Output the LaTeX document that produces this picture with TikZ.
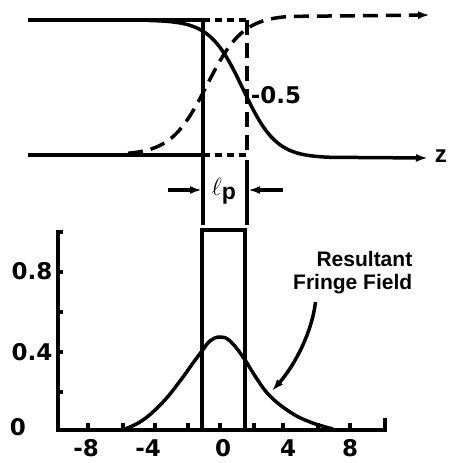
\documentclass[tikz,border=0pt]{standalone}
\usepackage{fontspec}
\setmainfont{Liberation Sans}
\newfontfamily\numfont{DejaVu Sans}
\usetikzlibrary{arrows.meta}
\begin{document}
\begin{tikzpicture}[x=1pt,y=-1pt,line width=3.5pt,
    tip/.style={-{Latex[length=12pt,width=8pt]}},
    shortdsh/.style={dash pattern=on 7pt off 5pt},
    longdsh/.style={dash pattern=on 15pt off 8pt},
    num/.style={inner sep=0pt,font=\fontsize{23}{24}\selectfont\numfont\bfseries},
    lbl/.style={inner sep=0pt,font=\fontsize{21}{23}\selectfont\bfseries}]
\useasboundingbox (0,0) rectangle (456,463);
% upper panel: ideal edge and the two fringe profiles
\draw (28,155) -- (203,155);
\draw (28,20) -- (203,20) -- (203,225);
\draw[shortdsh] (203,20) -- (247,20);
\draw[shortdsh] (203,155) -- (247,155);
\draw[longdsh] (247,20) -- (247,155);
\draw (247,160) -- (247,225);
\draw[tip] (28,20) -- (150,20) -- plot[domain=150:330,samples=60] (\x,{158-69*(1-tanh((\x-243)/33))}) -- (428,158);
\node[anchor=west,inner sep=0pt,font=\fontsize{24}{25}\selectfont\bfseries] (zlab) at (433,156) {z};
\draw[tip,longdsh] plot[domain=128:290,samples=60] (\x,{155-70*(1+tanh((\x-207)/36))}) -- (430,15);
\node[num,anchor=west] (half) at (249,95) {-0.5};
% pole length
\coordinate (lpa) at (203,190);
\coordinate (lpb) at (247,190);
\node[lbl,font=\fontsize{23}{24}\selectfont\bfseries] (lp) at (224,191) {$\ell_{\textbf{p}}$};
\draw[tip] (lpa) ++(-35,0) -- ([xshift=-1pt]lpa);
\draw[tip] (lpb) ++(36,0) -- ([xshift=1pt]lpb);
% lower panel: axes and ticks
\draw (63,232) -- (58,232) -- (58,430) -- (385,430) -- (385,418);
\foreach \y in {272,312,352,392}
    \draw (58,\y) -- (63,\y);
\foreach \x in {88,123,155,188,220,254,283,318,350}
    \draw (\x,430) -- (\x,423);
\node[num,anchor=east] (y08) at (54,271) {0.8};
\node[num,anchor=east] (y04) at (54,352) {0.4};
\node[num] (y00) at (18,427) {0};
\node[num] (xm8) at (91,448) {\llap{-}8};
\node[num] (xm4) at (153,448) {\llap{-}4};
\node[num] (x00) at (223,448) {0};
\node[num] (xp4) at (288,448) {4};
\node[num] (xp8) at (350,448) {8};
% pole field and resultant fringe field
\draw (202,430) -- (202,230) -- (245,230) -- (245,430);
\draw plot[smooth,tension=0.7] coordinates {(125,429) (143,420) (163,402) (180,381) (193,363) (202,351) (210,341) (220,337) (230,341) (243,357) (257,379) (270,396) (290,412) (310,422) (333,429)};
\node[lbl,align=right,anchor=east] (fringe) at (414,273) {Resultant\\Fringe Field};
\coordinate (tailpt) at (272,391);
\draw[tip] ([shift={(24,6)}]fringe.south west) .. controls (312,332) and (295,365) .. (tailpt);
\end{tikzpicture}
\end{document}
